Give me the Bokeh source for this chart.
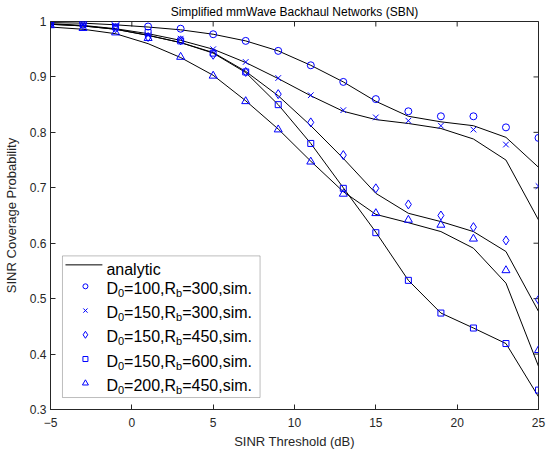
import numpy as np
from bokeh.plotting import figure
from bokeh.models import Range1d, FixedTicker, BoxAnnotation, Label
from bokeh.embed import file_html
from bokeh.resources import INLINE

# ---------------- data ----------------
snr_db = [-5, -3, -1, 1, 3, 5, 7, 9, 11, 13, 15, 17, 19, 21, 23, 25]

ana_100_300 = [0.998, 0.997, 0.994, 0.990, 0.985, 0.977, 0.965, 0.947, 0.921, 0.891, 0.856, 0.829, 0.819, 0.812, 0.791, 0.737]
ana_150_300 = [0.996, 0.993, 0.987, 0.978, 0.966, 0.950, 0.926, 0.897, 0.866, 0.838, 0.823, 0.816, 0.807, 0.788, 0.750, 0.642]
ana_150_450 = [0.995, 0.992, 0.986, 0.975, 0.962, 0.944, 0.910, 0.866, 0.812, 0.753, 0.690, 0.654, 0.639, 0.621, 0.585, 0.477]
ana_150_600 = [0.995, 0.992, 0.986, 0.975, 0.962, 0.943, 0.908, 0.850, 0.780, 0.700, 0.620, 0.533, 0.474, 0.447, 0.419, 0.323]
ana_200_450 = [0.990, 0.986, 0.978, 0.960, 0.935, 0.903, 0.857, 0.806, 0.748, 0.693, 0.652, 0.637, 0.621, 0.591, 0.528, 0.378]

sim_100_300 = [0.999, 0.999, 0.998, 0.991, 0.987, 0.977, 0.965, 0.947, 0.921, 0.891, 0.860, 0.838, 0.829, 0.829, 0.809, 0.790]
sim_150_300 = [0.997, 0.996, 0.992, 0.975, 0.969, 0.950, 0.927, 0.898, 0.867, 0.840, 0.827, 0.821, 0.812, 0.805, 0.778, 0.703]
sim_150_450 = [0.996, 0.993, 0.988, 0.972, 0.966, 0.940, 0.909, 0.869, 0.818, 0.759, 0.699, 0.670, 0.650, 0.629, 0.605, 0.498]
sim_150_600 = [0.997, 0.995, 0.990, 0.980, 0.965, 0.943, 0.909, 0.850, 0.780, 0.699, 0.619, 0.533, 0.474, 0.447, 0.419, 0.335]
sim_200_450 = [0.993, 0.988, 0.980, 0.970, 0.936, 0.902, 0.856, 0.805, 0.747, 0.689, 0.654, 0.642, 0.633, 0.608, 0.551, 0.407]

d0_values = [100, 150, 150, 150, 200]
rb_values = [300, 300, 450, 600, 450]
markers = ["circle", "x", "diamond", "square", "triangle"]
marker_sizes = [7, 8, 9, 6, 8]
legend_marker_sizes = [5, 6, 7, 5, 6]

x_ticks = [-5, 0, 5, 10, 15, 20, 25]
y_ticks = [0.3, 0.4, 0.5, 0.6, 0.7, 0.8, 0.9, 1.0]
y_tick_labels = ["0.3", "0.4", "0.5", "0.6", "0.7", "0.8", "0.9", "1"]

title_text = "Simplified mmWave Backhaul Networks (SBN)"
x_label = "SINR Threshold (dB)"
y_label = "SINR Coverage Probability"
analytic_label = "analytic"

# ---------------- layout ----------------
FONT = "Liberation Sans"
AX = "#262626"
W, H = 546, 451
BL, BR, BB = 49, 8, 41
X0, X1, Y0, Y1 = -5, 25, 0.3, 1.0
FRAME_L = BL
FRAME_R = W - BR
FRAME_B = H - BB
FRAME_T = 21


def px2x(px):
    return X0 + (px - FRAME_L) / (FRAME_R - FRAME_L) * (X1 - X0)


def px2y(py):
    return Y0 + (FRAME_B - py) / (FRAME_B - FRAME_T) * (Y1 - Y0)


p = figure(width=W, height=H, output_backend="svg", toolbar_location=None,
           x_range=Range1d(X0, X1), y_range=Range1d(Y0, Y1),
           min_border_left=BL, min_border_right=BR, min_border_bottom=BB,
           min_border_top=0)

p.title.text = title_text
p.title.text_font = FONT
p.title.text_font_size = "12px"
p.title.text_font_style = "normal"
p.title.text_color = "#000000"
p.title.align = "center"
p.title.standoff = 5
p.title.offset = 0

p.background_fill_color = "white"
p.border_fill_color = "white"
p.outline_line_color = AX
p.outline_line_width = 1
p.xgrid.visible = False
p.ygrid.visible = False

for ax in (p.xaxis[0], p.yaxis[0]):
    ax.axis_line_color = AX
    ax.major_tick_line_color = AX
    ax.major_tick_in = 5
    ax.major_tick_out = 0
    ax.minor_tick_line_color = None
    ax.major_label_text_font = FONT
    ax.major_label_text_font_size = "12px"
    ax.major_label_text_color = AX
    ax.major_label_text_line_height = 0.9
    ax.axis_label_text_font = FONT
    ax.axis_label_text_font_size = "13px"
    ax.axis_label_text_font_style = "normal"
    ax.axis_label_text_color = AX
    ax.axis_label_text_line_height = 0.9

p.xaxis.ticker = FixedTicker(ticks=x_ticks)
p.yaxis.ticker = FixedTicker(ticks=y_ticks)
p.yaxis.major_label_overrides = {t: s for t, s in zip(y_ticks, y_tick_labels)}
p.xaxis.axis_label = x_label
p.yaxis.axis_label = y_label
p.xaxis.major_label_standoff = 8
p.xaxis.axis_label_standoff = 4
p.yaxis.major_label_standoff = 4
p.yaxis.axis_label_standoff = 8

# inward ticks on top and right edges (clipped half by the frame)
p.scatter(x_ticks, [Y1] * len(x_ticks), marker="dash", angle=np.pi / 2, size=10,
          line_color=AX, line_width=1)
p.scatter([X1] * len(y_ticks), y_ticks, marker="dash", size=10,
          line_color=AX, line_width=1)

analytic = [ana_100_300, ana_150_300, ana_150_450, ana_150_600, ana_200_450]
simulated = [sim_100_300, sim_150_300, sim_150_450, sim_150_600, sim_200_450]

for ys in analytic:
    p.line(snr_db, ys, line_color="black", line_width=1)

for ys, m, s in zip(simulated, markers, marker_sizes):
    p.scatter(snr_db, ys, marker=m, size=s, line_color="blue", fill_color=None,
              line_width=1)

# ---------------- legend (manual, for subscripts) ----------------
box = BoxAnnotation(left=px2x(61), right=px2x(259), top=px2y(256), bottom=px2y(398),
                    fill_color="white", fill_alpha=1.0, line_color=AX, line_width=1,
                    level="underlay")
p.add_layout(box)

p.line([px2x(64), px2x(101)], [px2y(265), px2y(265)], line_color="black", line_width=1)
text_x = px2x(105)
p.add_layout(Label(x=text_x, y=px2y(270), text=analytic_label, text_font=FONT,
                   text_font_size="16px", text_baseline="alphabetic", text_color="black"))

row_y0, row_dy = 286.5, 24.3
sub_w = 6.12
main_px = 16
for i, (d0, rb, m, s) in enumerate(zip(d0_values, rb_values, markers, legend_marker_sizes)):
    cy = row_y0 + i * row_dy
    p.scatter([px2x(84)], [px2y(cy)], marker=m, size=s, line_color="blue",
              fill_color=None, line_width=1)
    base = px2y(cy + 2)
    sub = px2y(cy + 6.5)
    piece1 = "=%d,R" % d0
    piece2 = "=%d,sim." % rb
    w_D = 0.722 * main_px
    w_p1 = (0.584 + 0.556 * 3 + 0.278 + 0.722) * main_px
    offs = [0, w_D, w_D + sub_w, w_D + sub_w + w_p1, w_D + sub_w + w_p1 + sub_w]
    texts = ["D", "0", piece1, "b", piece2]
    ys = [base, sub, base, sub, base]
    sizes = ["16px", "11px", "16px", "11px", "16px"]
    for t, o, yy, fs in zip(texts, offs, ys, sizes):
        p.add_layout(Label(x=text_x, y=yy, x_offset=o, text=t, text_font=FONT,
                           text_font_size=fs, text_baseline="alphabetic",
                           text_color="black"))

open("out.html", "w").write(file_html(p, INLINE))
